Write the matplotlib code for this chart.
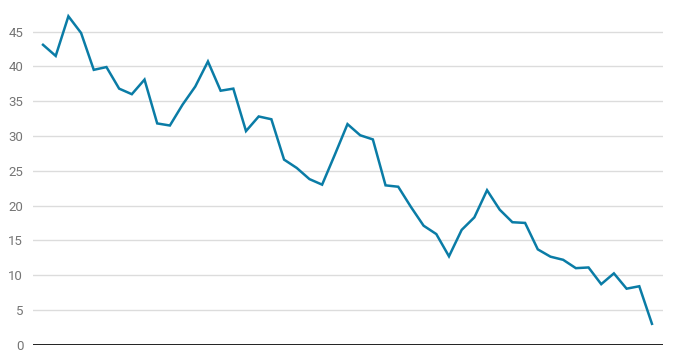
import matplotlib
matplotlib.use('Agg')
import matplotlib.pyplot as plt

# values, one point per step
values = [43.1, 41.5, 47.2, 44.8, 39.5, 39.9, 36.8, 36.0, 38.1, 31.8,
          31.5, 34.5, 37.1, 40.7, 36.5, 36.8, 30.7, 32.8, 32.4, 26.6,
          25.4, 23.8, 23.0, 27.3, 31.7, 30.1, 29.5, 22.9, 22.7, 19.8,
          17.1, 15.9, 12.7, 16.5, 18.3, 22.2, 19.4, 17.6, 17.5, 13.7,
          12.65, 12.2, 11.0, 11.1, 8.7, 10.25, 8.05, 8.4, 3.0]
yticks = [0, 5, 10, 15, 20, 25, 30, 35, 40, 45]

plt.rcParams['font.family'] = ['Roboto', 'DejaVu Sans']

W, H = 678, 350
fig = plt.figure(figsize=(W / 100, H / 100), dpi=100)
# axes box in pixels: left 33, right 663, bottom (y=0) 344.7, top 10
ax = fig.add_axes([33 / W, (H - 344.7) / H, (663 - 33) / W, (344.7 - 10) / H])

x = list(range(len(values)))
ax.plot(x, values, color='#0a7ca6', linewidth=1.8, solid_joinstyle='miter')

ax.set_xlim(-0.79, len(values) - 1 + 0.87)
ax.set_ylim(0, 48.1)
ax.set_yticks(yticks)
ax.set_xticks([])
ax.grid(axis='y', color='#dcdcdc', linewidth=1.0)
ax.set_axisbelow(True)
ax.axhline(0, color='#111111', linewidth=1.3, zorder=3)
for s in ['top', 'right', 'left', 'bottom']:
    ax.spines[s].set_visible(False)
ax.tick_params(axis='y', length=0, pad=7, labelsize=9.5, labelcolor='#757575')

fig.savefig('out.png', dpi=100, facecolor='white')
